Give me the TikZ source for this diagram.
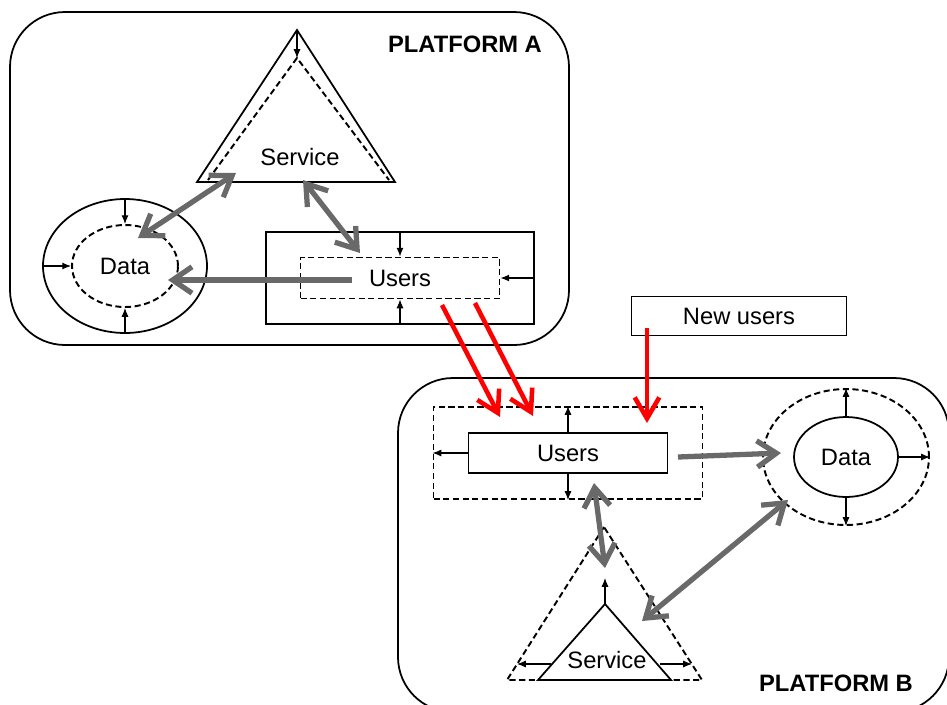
\documentclass[tikz,border=0pt]{standalone}
\usepackage{fontspec}
\setmainfont{Liberation Sans}
\usetikzlibrary{arrows.meta,shapes.geometric}
\definecolor{flowgray}{RGB}{105,105,105}

\begin{document}
\begin{tikzpicture}[x=0.02cm, y=-0.02cm,
    font=\fontsize{13.5}{15}\selectfont,
    platform/.style={draw, line width=1pt, rounded corners=1.1cm},
    solidpart/.style={draw, line width=1pt, inner sep=0pt},
    dashpart/.style={draw, line width=1.1pt, dash pattern=on 3.5pt off 2pt, inner sep=0pt},
    tiny/.style={-{Latex[length=5pt,width=4pt]}, line width=0.6pt},
    flow/.style={draw=flowgray, line width=3pt, >={Straight Barb[length=11pt,width=15pt]}},
    migrate/.style={draw=red, line width=2.6pt, ->, >={Straight Barb[length=12pt,width=14pt]}},
    title/.style={font=\fontsize{13.5}{15}\selectfont\bfseries}]
    \useasboundingbox (0,0) rectangle (947,704);

    % Platform A
    \draw[platform] (10,12) rectangle (569,345);
    \node[title] (labelA) at (465,44) {PLATFORM A};

    % Service A triangles
    \coordinate (svcAtop) at (297,30);
    \coordinate (svcAleft) at (197,182);
    \coordinate (svcAright) at (395,182);
    \coordinate (svcAin) at (297,58);
    \draw[line width=1pt] (svcAtop) -- (svcAleft) -- (svcAright) -- cycle;
    \draw[line width=1.1pt, dash pattern=on 3.5pt off 2pt] (208,180) -- (svcAin) -- (389,180);
    \draw[tiny] (svcAtop) -- (svcAin);
    \node (svcA) at (300,157) {Service};

    % Data A
    \node[ellipse, solidpart, minimum width=3.28cm, minimum height=2.68cm] (dataAout) at (125,266) {};
    \node[ellipse, dashpart, minimum width=2.12cm, minimum height=1.64cm] (dataAin) at (125,266) {Data};
    \foreach \a in {north,west,south} {
        \draw[tiny] (dataAout.\a) -- (dataAin.\a);
    }

    % Users A
    \node[solidpart, minimum width=5.36cm, minimum height=1.84cm] (usersAout) at (400,278) {};
    \node[dashpart, minimum width=3.98cm, minimum height=0.82cm] (usersAin) at (400,278) {Users};
    \foreach \a in {north,east,south} {
        \draw[tiny] (usersAout.\a) -- (usersAin.\a);
    }

    % Flows in platform A
    \coordinate (dataAsvc) at (138,238);
    \coordinate (svcAdata) at (236,173);
    \coordinate (svcAusers) at (303,180);
    \coordinate (usersAsvc) at (360,253);
    \coordinate (usersAdata) at (352,280);
    \coordinate (dataAusers) at (168,280);
    \draw[flow,<->] (dataAsvc) -- (svcAdata);
    \draw[flow,<->] (svcAusers) -- (usersAsvc);
    \draw[flow,->] (usersAdata) -- (dataAusers);

    % New users
    \node[solidpart, minimum width=4.3cm, minimum height=0.78cm] (newusers) at (739,316) {New users};

    % Platform B
    \draw[platform] (398,378) rectangle (949,712);
    \node[title] (labelB) at (836,683) {PLATFORM B};

    % Users B
    \node[dashpart, minimum width=5.38cm, minimum height=1.84cm] (usersBout) at (568,453) {};
    \node[solidpart, fill=white, minimum width=3.98cm, minimum height=0.8cm] (usersBin) at (568,453) {Users};
    \foreach \a in {north,west,south} {
        \draw[tiny] (usersBin.\a) -- (usersBout.\a);
    }

    % Data B
    \node[ellipse, dashpart, minimum width=3.32cm, minimum height=2.72cm] (dataBout) at (846,457) {};
    \node[ellipse, solidpart, minimum width=2.08cm, minimum height=1.6cm] (dataBin) at (846,457) {Data};
    \foreach \a in {north,east,south} {
        \draw[tiny] (dataBin.\a) -- (dataBout.\a);
    }

    % Service B triangles
    \coordinate (svcBtop) at (605,604);
    \coordinate (svcBleft) at (538,680);
    \coordinate (svcBright) at (671,680);
    \coordinate (svcBouttop) at (604,527);
    \coordinate (svcBoutleft) at (507,680);
    \coordinate (svcBoutright) at (702,680);
    \draw[line width=1.1pt, dash pattern=on 3.5pt off 2pt] (svcBouttop) -- (svcBoutleft) -- (svcBoutright) -- cycle;
    \draw[line width=1pt, fill=white] (svcBtop) -- (svcBleft) -- (svcBright) -- cycle;
    \node (svcB) at (607,660) {Service};
    \coordinate (svcBup) at (605,578);
    \coordinate (svcBw) at (551,664);
    \coordinate (svcBwend) at (517,664);
    \coordinate (svcBe) at (660,664);
    \coordinate (svcBeend) at (692,664);
    \draw[tiny] (svcBtop) -- (svcBup);
    \draw[tiny] (svcBw) -- (svcBwend);
    \draw[tiny] (svcBe) -- (svcBeend);

    % Flows in platform B
    \coordinate (usersBdata) at (678,457);
    \coordinate (dataBusers) at (781,453);
    \coordinate (usersBsvc) at (594,483);
    \coordinate (svcBusers) at (605,568);
    \coordinate (dataBsvc) at (788,500);
    \coordinate (svcBdata) at (642,621);
    \draw[flow,->] (usersBdata) -- (dataBusers);
    \draw[flow,<->] (usersBsvc) -- (svcBusers);
    \draw[flow,<->] (dataBsvc) -- (svcBdata);

    % Users moving to platform B
    \coordinate (moveA1) at (442,305);
    \coordinate (moveB1) at (500,417);
    \coordinate (moveA2) at (475,303);
    \coordinate (moveB2) at (533,416);
    \coordinate (newstart) at (647,328);
    \coordinate (newend) at (647,423);
    \draw[migrate] (moveA1) -- (moveB1);
    \draw[migrate] (moveA2) -- (moveB2);
    \draw[migrate] (newstart) -- (newend);

\end{tikzpicture}
\end{document}
